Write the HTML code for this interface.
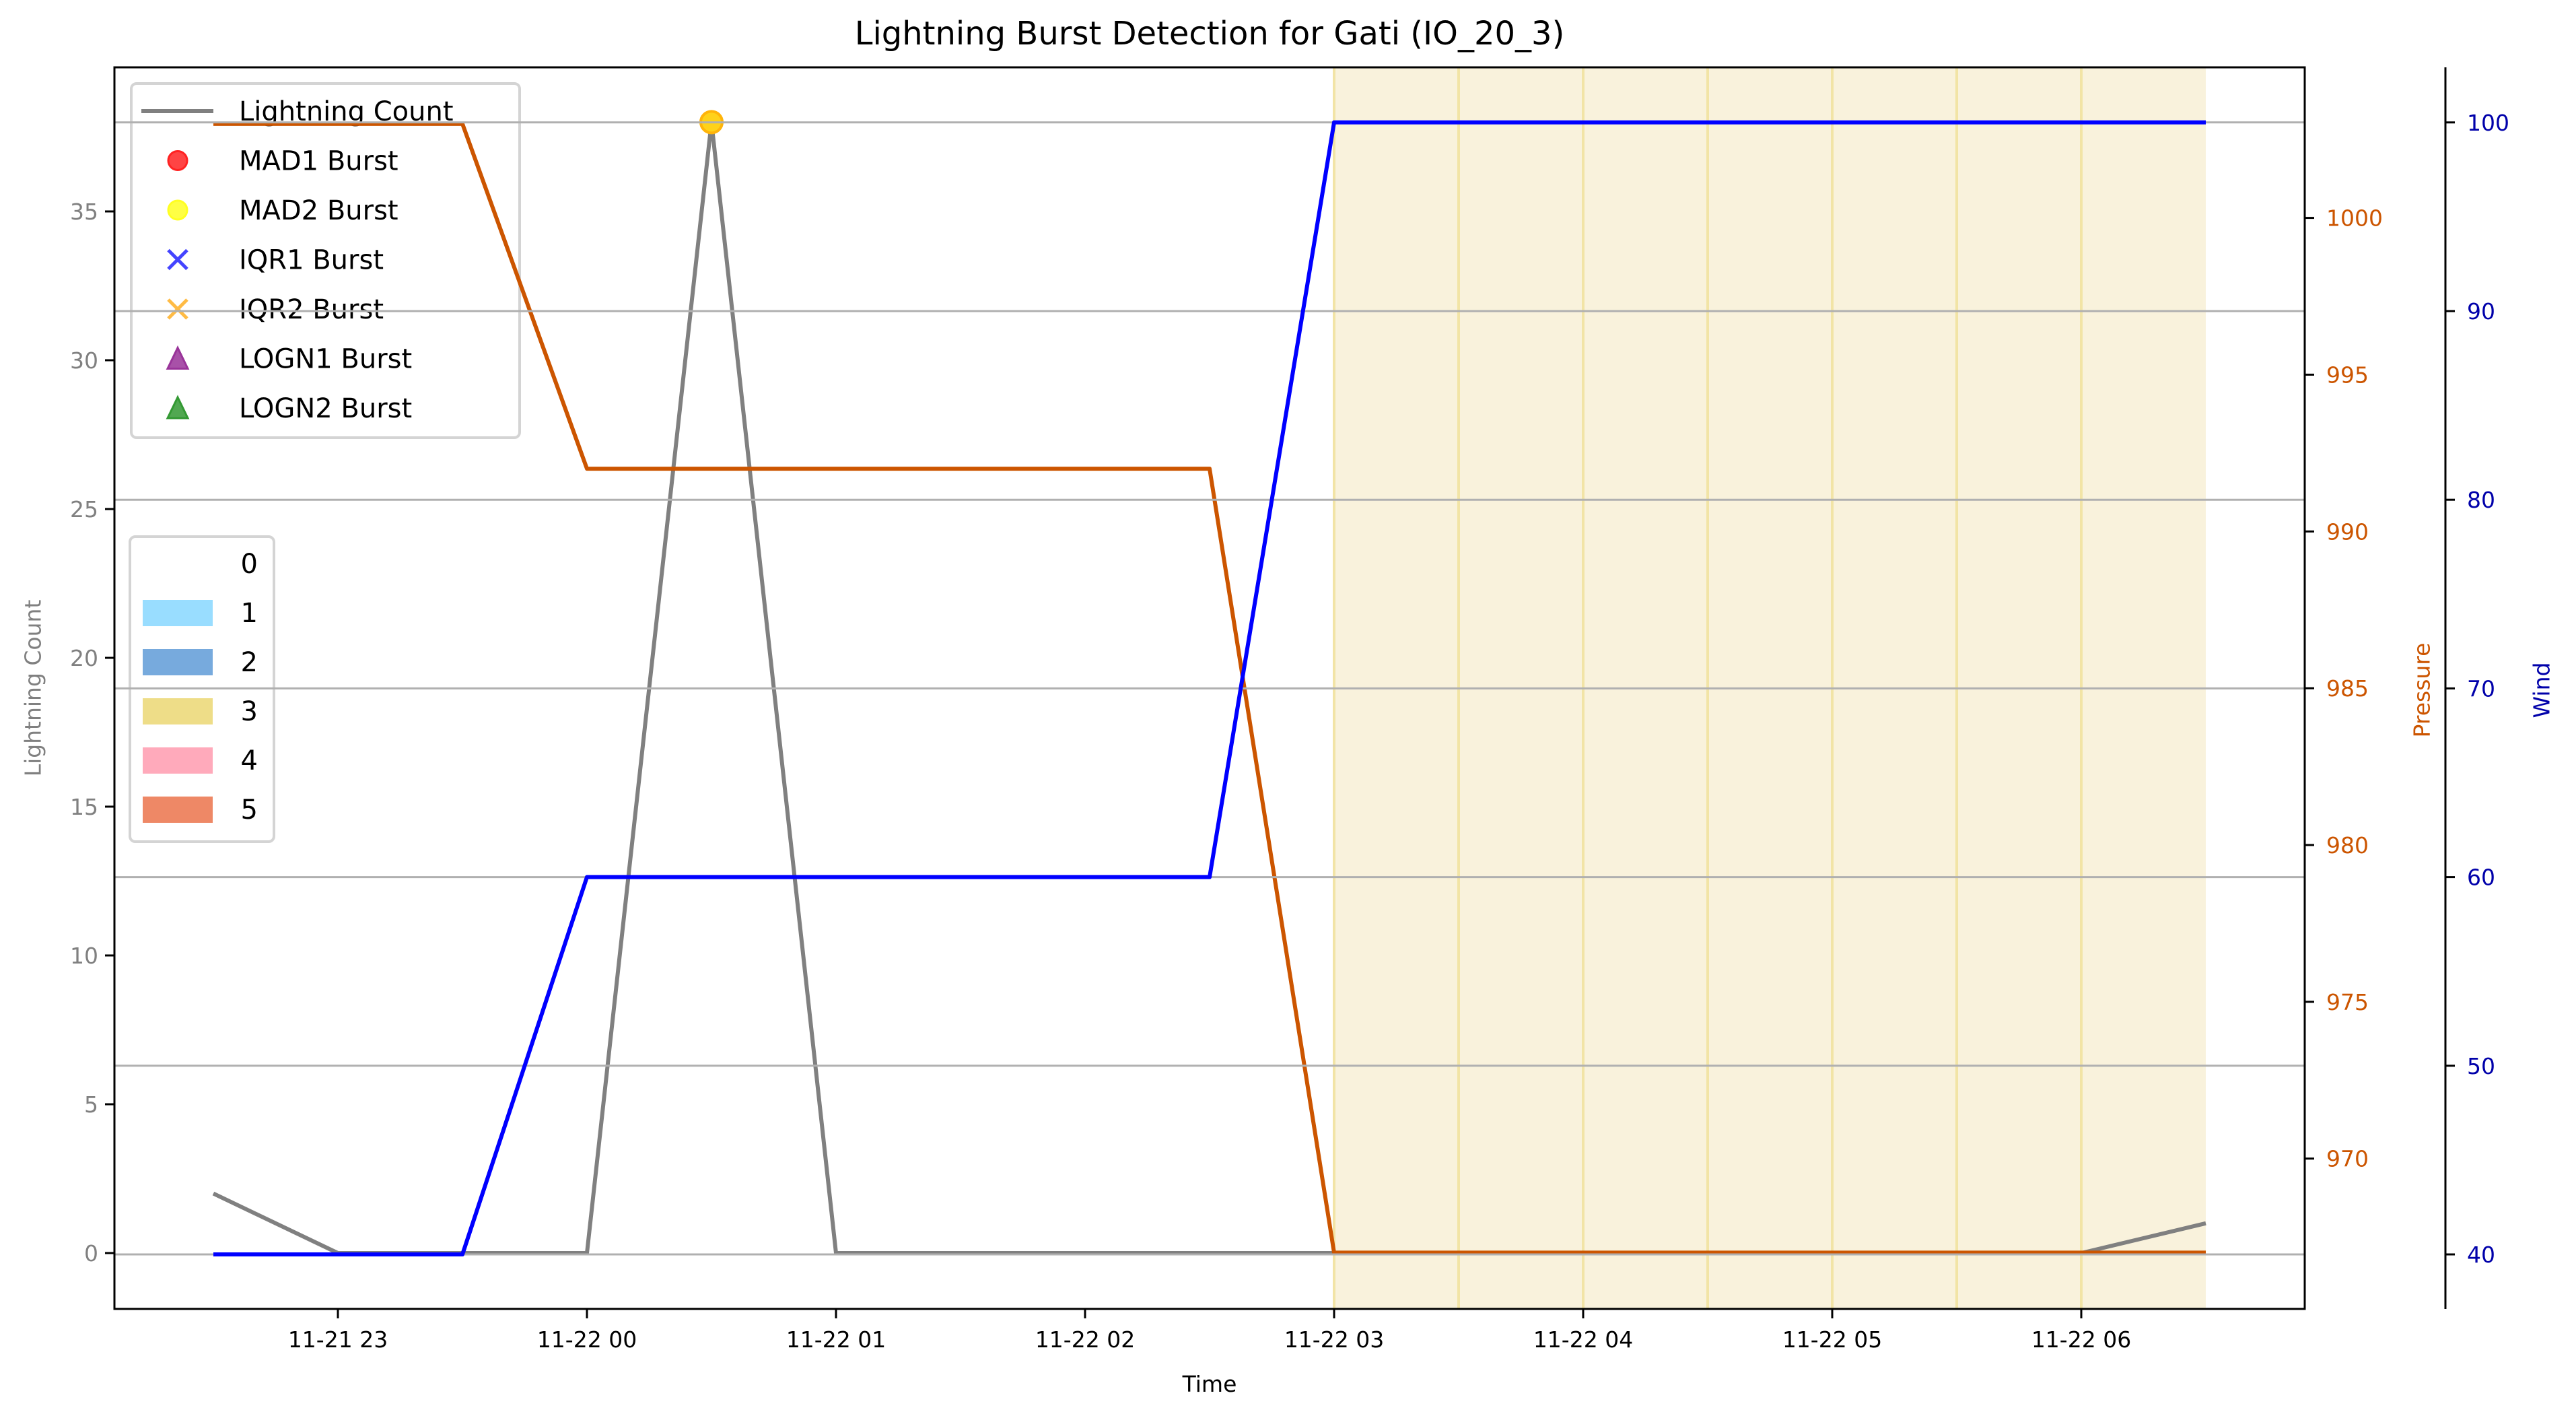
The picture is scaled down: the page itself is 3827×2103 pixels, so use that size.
<!DOCTYPE html>
<html><head><meta charset="utf-8"><style>
html,body{margin:0;padding:0;background:#fff;}
svg{display:block;font-family:"DejaVu Sans","Liberation Sans",sans-serif;}
</style></head><body>
<svg id="chart" width="3827" height="2103" viewBox="0 0 3827 2103" xmlns="http://www.w3.org/2000/svg">
<rect width="3827" height="2103" fill="#fff"/>
<g id="spans"></g>
<g id="lightning"></g>
<g id="markers"></g>
<g id="legends"></g>
<g id="pressure"></g>
<g id="grid"></g>
<g id="wind"></g>
<g id="axes"></g>
</svg>
<script>
const times = [22.5,23,23.5,24,24.5,25,25.5,26,26.5,27,27.5,28,28.5,29,29.5,30,30.5];
const lightning = [2,0,0,0,38,0,0,0,0,0,0,0,0,0,0,0,1];
const pressure = [1003,1003,1003,992,992,992,992,992,992,967,967,967,967,967,967,967,967];
const wind = [40,40,40,60,60,60,60,60,60,100,100,100,100,100,100,100,100];
const burstTimes = [24.5];
const burstValues = [38];
const spanStarts = [27,27.5,28,28.5,29,29.5,30];
const xTickHours = [23,24,25,26,27,28,29,30];
const xTickLabels = ["11-21 23","11-22 00","11-22 01","11-22 02","11-22 03","11-22 04","11-22 05","11-22 06"];
const leftTicks = [0,5,10,15,20,25,30,35];
const pressTicks = [970,975,980,985,990,995,1000];
const windTicks = [40,50,60,70,80,90,100];
const legendLabels = ["Lightning Count","MAD1 Burst","MAD2 Burst","IQR1 Burst","IQR2 Burst","LOGN1 Burst","LOGN2 Burst"];
const catLabels = ["0","1","2","3","4","5"];
const catColors = ["none","#99ddff","#77aadd","#eedd88","#ffaabb","#ee8866"];

const L=170,R=3424,T=100,B=1944;
const xs = h => 502 + (h-23)*370;
const yL = v => 1861 - v*44.2;
const yP = v => 323.6 + (1000-v)*46.57;
const yW = v => 1863 - (v-40)*28.02;
const NS="http://www.w3.org/2000/svg";
function mk(tag, attrs, parent, text){const e=document.createElementNS(NS,tag);for(const k in attrs)e.setAttribute(k,attrs[k]);if(text!==undefined)e.textContent=text;document.getElementById(parent)?document.getElementById(parent).appendChild(e):parent.appendChild(e);return e;}

spanStarts.forEach((s,i)=>{
  const r=mk('rect',{x:xs(s),y:T,width:xs(s+0.5)-xs(s),height:B-T,fill:'#f9f2dc'},'spans');
  
  
  const l=mk('line',{x1:xs(s),x2:xs(s),y1:T,y2:B,stroke:'#f2e4a6','stroke-width':4},'spans');
  
  
});
function poly(vals, yf, color, w, g, name){
  const pts = times.map((t,i)=>xs(t)+','+yf(vals[i])).join(' ');
  const p=mk('polyline',{points:pts,fill:'none',stroke:color,'stroke-width':w,'stroke-linejoin':'round'},g);
  
  
}
poly(lightning,yL,'#808080',6,'lightning','lightning-count-line');
burstTimes.forEach((t,i)=>{
  const c=mk('circle',{cx:xs(t),cy:yL(burstValues[i]),r:16,fill:'#ffd21a',stroke:'#ffb40a','stroke-width':4},'markers');
  
  
});
const lg=document.getElementById('legends');
const b1=mk('rect',{x:195,y:124,width:577,height:526,rx:8,fill:'#fff','fill-opacity':0.8,stroke:'#d4d4d4','stroke-width':4},lg);


legendLabels.forEach((lab,i)=>{
  const cy=165+i*73.5;
  const tx=mk('text',{x:355,y:cy+14,'font-size':40,fill:'#000'},lg,lab);
  
  
  const cx=264;
  if(i===0) mk('line',{x1:210,x2:317,y1:cy,y2:cy,stroke:'#808080','stroke-width':6},lg);
  else if(i===1) mk('circle',{cx:cx,cy:cy,r:14,fill:'#ff4444',stroke:'#ff2222','stroke-width':3},lg);
  else if(i===2) mk('circle',{cx:cx,cy:cy,r:14,fill:'#ffff44',stroke:'#ffff22','stroke-width':3},lg);
  else if(i===3||i===4){const c=i===3?'#4444ff':'#ffbb44';mk('path',{d:`M${cx-14},${cy-14}L${cx+14},${cy+14}M${cx-14},${cy+14}L${cx+14},${cy-14}`,stroke:c,'stroke-width':5},lg);}
  else {const c=i===5?'#993399':'#339933';mk('path',{d:`M${cx},${cy-16}L${cx+15},${cy+15}L${cx-15},${cy+15}Z`,fill:c,stroke:c,'stroke-width':3,'fill-opacity':0.85},lg);}
});
const b2=mk('rect',{x:193,y:797,width:214,height:453,rx:8,fill:'#fff','fill-opacity':0.8,stroke:'#d4d4d4','stroke-width':4},lg);


catLabels.forEach((lab,i)=>{
  const cy=837+i*73;
  if(catColors[i]!=='none'){const r=mk('rect',{x:212,y:cy-19,width:104,height:39,fill:catColors[i]},lg);
  
  }
  const t=mk('text',{x:383,y:cy+14,'font-size':40,'text-anchor':'end',fill:'#000'},lg,lab);
  
  
});
poly(pressure,yP,'#cc5500',6,'pressure','pressure-line');
windTicks.forEach(v=>{
  const l=mk('line',{x1:L,x2:R,y1:yW(v),y2:yW(v),stroke:'#b0b0b0','stroke-width':3},'grid');
  
  
});
poly(wind,yW,'#0000ff',6,'wind','wind-line');
const ax=document.getElementById('axes');
mk('rect',{x:L,y:T,width:R-L,height:B-T,fill:'none',stroke:'#000','stroke-width':3},ax);
mk('line',{x1:3633,x2:3633,y1:T,y2:B,stroke:'#000','stroke-width':3},ax);
xTickHours.forEach((h,i)=>{
  mk('line',{x1:xs(h),x2:xs(h),y1:B,y2:B+14,stroke:'#000','stroke-width':3},ax);
  const t=mk('text',{x:xs(h),y:B+57,'font-size':33,'text-anchor':'middle'},ax,xTickLabels[i]);
  
  
});
leftTicks.forEach(v=>{
  mk('line',{x1:L-14,x2:L,y1:yL(v),y2:yL(v),stroke:'#000','stroke-width':3},ax);
  const t=mk('text',{x:L-24,y:yL(v)+12,'font-size':33,'text-anchor':'end',fill:'#808080'},ax,String(v));
  
  
});
pressTicks.forEach(v=>{
  mk('line',{x1:R,x2:R+14,y1:yP(v),y2:yP(v),stroke:'#000','stroke-width':3},ax);
  const t=mk('text',{x:R+32,y:yP(v)+12,'font-size':33,fill:'#cc5500'},ax,String(v));
  
  
});
windTicks.forEach(v=>{
  mk('line',{x1:3633,x2:3647,y1:yW(v),y2:yW(v),stroke:'#000','stroke-width':3},ax);
  const t=mk('text',{x:3665,y:yW(v)+12,'font-size':33,fill:'#0000aa'},ax,String(v));
  
  
});
</script>
<div style="position:absolute;left:0;top:0;width:3827px;height:2103px;pointer-events:none;font-family:'DejaVu Sans','Liberation Sans',sans-serif;">
<div style="position:absolute;left:0;top:22px;text-align:center;font-size:48px;padding-left:170px;box-sizing:content-box;width:3254px;">Lightning Burst Detection for Gati (IO_20_3)</div>
<div style="position:absolute;left:170px;width:3254px;top:2036px;text-align:center;font-size:33px;">Time</div>
<div style="position:absolute;left:49px;top:1022px;font-size:33px;color:#808080;transform:translate(-50%,-50%) rotate(-90deg);white-space:nowrap;">Lightning Count</div>
<div style="position:absolute;left:3598px;top:1025px;font-size:33px;color:#cc5500;transform:translate(-50%,-50%) rotate(-90deg);white-space:nowrap;">Pressure</div>
<div style="position:absolute;left:3776px;top:1025px;font-size:33px;color:#0000aa;transform:translate(-50%,-50%) rotate(-90deg);white-space:nowrap;">Wind</div>
</div>
</body></html>
